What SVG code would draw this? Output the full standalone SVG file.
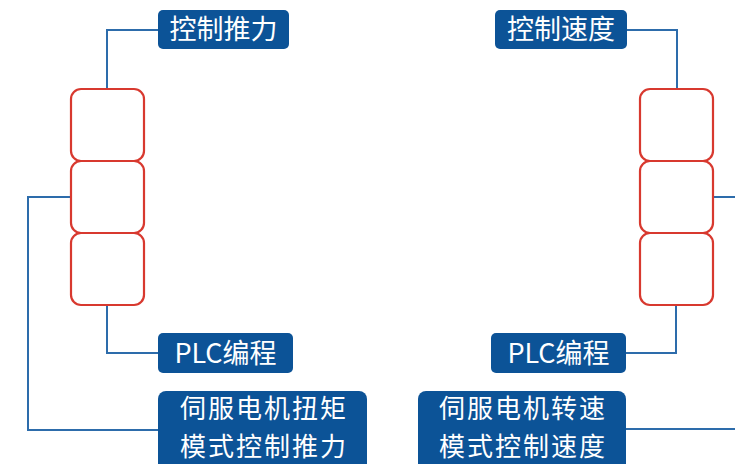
<svg xmlns="http://www.w3.org/2000/svg" width="735" height="464" viewBox="0 0 735 464">
<style>
.lbl{fill:#0c5397}
.t{fill:#ffffff;font-family:"Noto Sans CJK SC","Noto Sans",sans-serif;font-size:27px;text-anchor:middle}
.big{font-size:26px;letter-spacing:2px}
.rb{fill:#ffffff;stroke:#d8392f;stroke-width:2.2}
.c{fill:none;stroke:#2d6cab;stroke-width:2}
</style>
<rect width="735" height="464" fill="#ffffff"/>
<g id="connectors">
<path class="c" d="M158,30 H107 V88"/>
<path class="c" d="M71,197 H28 V430 H158"/>
<path class="c" d="M107,305 V353 H158"/>
<path class="c" d="M627,30 H677 V88"/>
<path class="c" d="M713,197 H735"/>
<path class="c" d="M676,305 V353 H626"/>
<path class="c" d="M626,429 H735"/>
</g>
<g id="left-stack">
<rect class="rb" x="71" y="89" width="73" height="72" rx="10"/>
<rect class="rb" x="71" y="161" width="73" height="72" rx="10"/>
<rect class="rb" x="71" y="233" width="73" height="72" rx="10"/>
</g>
<g id="right-stack">
<rect class="rb" x="640" y="89" width="73" height="72" rx="10"/>
<rect class="rb" x="640" y="161" width="73" height="72" rx="10"/>
<rect class="rb" x="640" y="233" width="73" height="72" rx="10"/>
</g>
<g id="node-thrust">
<rect class="lbl" x="158" y="10" width="131" height="39" rx="5"/>
<text class="t" x="223.5" y="39">控制推力</text>
</g>
<g id="node-plc-left">
<rect class="lbl" x="158" y="333" width="135" height="40" rx="5"/>
<text class="t" x="225.5" y="363">PLC编程</text>
</g>
<g id="node-torque">
<rect class="lbl" x="158" y="391" width="209" height="80" rx="8"/>
<text class="t big" x="264" y="418">伺服电机扭矩</text>
<text class="t big" x="264" y="456">模式控制推力</text>
</g>
<g id="node-speed">
<rect class="lbl" x="495" y="10" width="132" height="39" rx="5"/>
<text class="t" x="561" y="39">控制速度</text>
</g>
<g id="node-plc-right">
<rect class="lbl" x="491" y="333" width="135" height="40" rx="5"/>
<text class="t" x="558.5" y="363">PLC编程</text>
</g>
<g id="node-rpm">
<rect class="lbl" x="418" y="391" width="208" height="80" rx="8"/>
<text class="t big" x="523" y="418">伺服电机转速</text>
<text class="t big" x="523" y="456">模式控制速度</text>
</g>
</svg>
